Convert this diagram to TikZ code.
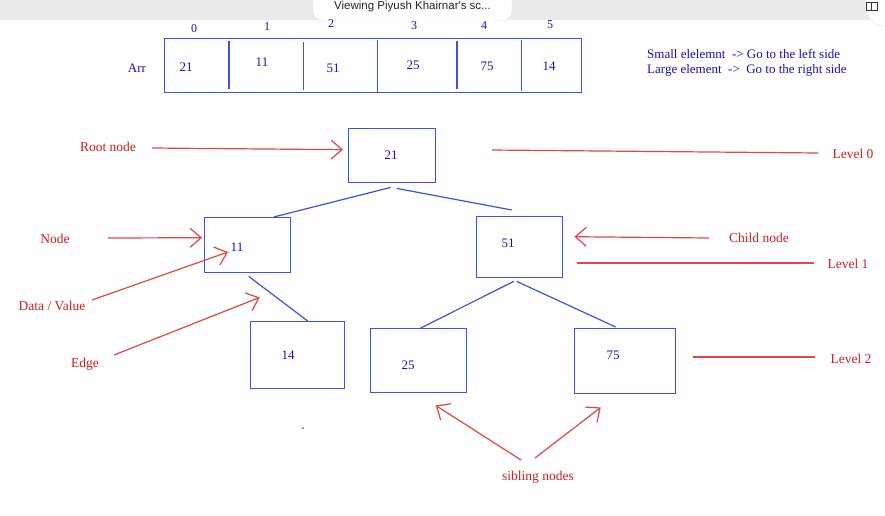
\documentclass[tikz,border=0pt]{standalone}
\usepackage{fontspec}
\setmainfont{Liberation Serif}
\newfontfamily\uifont{Liberation Sans}
\usetikzlibrary{arrows.meta,calc}
\definecolor{bxblue}{RGB}{60,80,235}
\definecolor{txblue}{RGB}{20,20,195}
\definecolor{lnred}{RGB}{228,70,70}
\definecolor{txred}{RGB}{212,30,30}
\definecolor{bargray}{RGB}{234,234,234}
\begin{document}
\begin{tikzpicture}[x=1pt,y=-1pt,
  box/.style={draw=bxblue,line width=1.4pt,inner sep=0pt,anchor=north west},
  btxt/.style={text=txblue,inner sep=0pt,font=\fontsize{13}{15}\selectfont},
  itxt/.style={text=txblue,inner sep=0pt,font=\fontsize{12}{14}\selectfont},
  rtxt/.style={text=txred,inner sep=0pt,font=\fontsize{13.5}{15}\selectfont},
  treeedge/.style={draw=bxblue,line width=1.2pt},
  divider/.style={draw=bxblue,line width=1.3pt},
  ann/.style={draw=lnred,line width=1.2pt,-{Straight Barb[length=11pt,width=19pt,line width=1.2pt]}},
  lvl/.style={draw=lnred,line width=1.2pt}]
\useasboundingbox (0,0) rectangle (885,515);
\fill[white] (0,0) rectangle (885,515);
% top bar of the screen share
\fill[bargray] (0,0) rectangle (885,20);
\path[fill=white,draw=black!12,rounded corners=10pt] (313,-12) rectangle (512,21);
\node[inner sep=0pt,font=\uifont\fontsize{11.5}{13}\selectfont,text=black!85] (view) at (412.5,7) {Viewing Piyush Khairnar's sc...};
\path[fill=white,draw=black!12] (885,6) circle (20pt);
\draw[black!80,line width=0.8pt] (866,2) rectangle (877,10) (871.5,2) -- (871.5,10);

% array
\node[box,minimum width=417pt,minimum height=54pt] (arr) at (164,38) {};
\draw[divider] (229,41) -- (229,89);
\draw[divider] (303.5,42) -- (303.5,90);
\draw[divider] (377.5,40) -- (377.5,93);
\draw[divider] (457,41) -- (457,89);
\draw[divider] (521.5,40) -- (521.5,91);
\node[btxt] (arrlbl) at (137,68) {Arr};
\node[itxt] (i0) at (194,29) {0};
\node[itxt] (i1) at (267,27) {1};
\node[itxt] (i2) at (331,24) {2};
\node[itxt] (i3) at (414,26) {3};
\node[itxt] (i4) at (484,26) {4};
\node[itxt] (i5) at (550,25) {5};
\node[btxt] (a0) at (186,67) {21};
\node[btxt] (a1) at (262,62) {11};
\node[btxt] (a2) at (333,68) {51};
\node[btxt] (a3) at (413,65) {25};
\node[btxt] (a4) at (487,66) {75};
\node[btxt] (a5) at (549,66) {14};

% legend
\node[btxt,anchor=west] (leg1) at (647,54) {Small elelemnt\ \ -> Go to the left side};
\node[btxt,anchor=west] (leg2) at (647,70) {Large element\ \ ->\ \ Go to the right side};

% tree
\node[box,minimum width=87pt,minimum height=54pt] (root) at (348,128) {};
\node[box,minimum width=86pt,minimum height=55pt] (n11) at (204,217) {};
\node[box,minimum width=86pt,minimum height=61pt] (n51) at (476,216) {};
\node[box,minimum width=94pt,minimum height=67pt] (n14) at (250,321) {};
\node[box,minimum width=96pt,minimum height=64pt] (n25) at (370,328) {};
\node[box,minimum width=101pt,minimum height=65pt] (n75) at (574,328) {};
\node[btxt] (t21) at (391,155) {21};
\node[btxt] (t11) at (237,247) {11};
\node[btxt] (t51) at (508,243) {51};
\node[btxt] (t14) at (288,355) {14};
\node[btxt] (t25) at (408,365) {25};
\node[btxt] (t75) at (613,355) {75};

\draw[treeedge] ([shift={(-1.5,4)}]root.south) -- ([xshift=26]n11.north);
\draw[treeedge] ([shift={(4.5,5)}]root.south) -- ([shift={(-8,-6)}]n51.north);
\draw[treeedge] ([shift={(1,3)}]n11.south) -- ([xshift=10]n14.north);
\draw[treeedge] ([shift={(-6,3)}]n51.south) -- ([xshift=2]n25.north);
\draw[treeedge] ([shift={(-3,3)}]n51.south) -- ([shift={(-9.5,-1)}]n75.north);

% annotations
\node[rtxt] (lroot) at (108,147) {Root node};
\node[rtxt] (lnode) at (55,239) {Node};
\node[rtxt] (ldata) at (52,306) {Data / Value};
\node[rtxt] (ledge) at (85,364) {Edge};
\node[rtxt] (lchild) at (759,238) {Child node};
\node[rtxt] (lsib) at (538,477) {sibling nodes};
\node[rtxt] (lv0) at (853,154) {Level 0};
\node[rtxt] (lv1) at (848,264) {Level 1};
\node[rtxt] (lv2) at (851,359) {Level 2};

\coordinate (sroot) at (152,148);
\coordinate (snode) at (108,238);
\coordinate (sdata) at (92,300);
\coordinate (sedge) at (114,355);
\coordinate (schild) at (709,238);
\coordinate (ssib1) at (521,460);
\coordinate (ssib2) at (535,458);
\coordinate (c0) at (492,150);
\coordinate (c1) at (577,263);
\coordinate (c2) at (693,357);

\draw[ann] (sroot) -- ([shift={(-5,-6)}]root.west);
\draw[ann] (snode) -- ([shift={(-2,-7.5)}]n11.west);
\draw[ann] (sdata) -- ([shift={(-9,5)}]t11.center);
\draw[ann] (sedge) -- ([shift={(12,24)}]n11.south);
\draw[ann] (schild) -- ([shift={(11,-10.5)}]n51.east);
\draw[ann] (ssib1) -- ([shift={(17,12)}]n25.south);
\draw[ann] (ssib2) -- ([shift={(-24.5,13)}]n75.south);

\draw[lvl] (c0) -- ([shift={(-14,-1)}]lv0.west);
\draw[lvl] (c1) -- ([shift={(-13,-1)}]lv1.west);
\draw[lvl] (c2) -- ([shift={(-15,-2)}]lv2.west);

\fill[bxblue] (303,428) circle (1pt);
\end{tikzpicture}
\end{document}
